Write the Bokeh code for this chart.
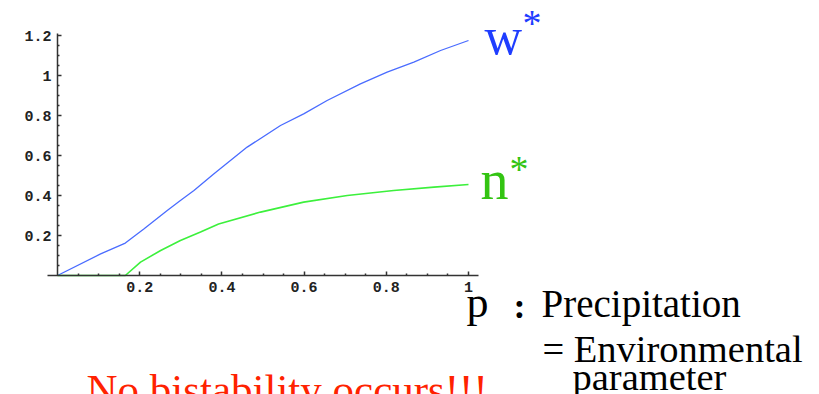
from bokeh.plotting import figure
from bokeh.models import LinearAxis, FixedTicker, Label, Range1d
from bokeh.embed import file_html
from bokeh.resources import INLINE

# ---- data ----
p_w = [0, 0.105, 0.165, 0.21, 0.267, 0.299, 0.332, 0.38, 0.4615, 0.5426, 0.599,
       0.656, 0.737, 0.802, 0.867, 0.932, 1.0]
w_star = [0, 0.108, 0.162, 0.233, 0.325, 0.375, 0.425, 0.508, 0.642, 0.75, 0.808,
          0.875, 0.958, 1.017, 1.067, 1.125, 1.175]

p_n = [0, 0.165, 0.202, 0.251, 0.299, 0.348, 0.392, 0.494, 0.599, 0.705, 0.818,
       0.916, 1.0]
n_star = [0, 0, 0.067, 0.125, 0.175, 0.217, 0.258, 0.317, 0.367, 0.40, 0.425,
          0.442, 0.455]

x_ticks = [0.2, 0.4, 0.6, 0.8, 1.0]
x_tick_labels = ["0.2", "0.4", "0.6", "0.8", "1"]
x_minor = [0.05, 0.1, 0.15, 0.25, 0.3, 0.35, 0.45, 0.5, 0.55, 0.65, 0.7, 0.75,
           0.85, 0.9, 0.95]
y_ticks = [0.2, 0.4, 0.6, 0.8, 1.0, 1.2]
y_tick_labels = ["0.2", "0.4", "0.6", "0.8", "1", "1.2"]
y_minor = [0.05, 0.1, 0.15, 0.25, 0.3, 0.35, 0.45, 0.5, 0.55, 0.65, 0.7, 0.75,
           0.85, 0.9, 0.95, 1.05, 1.1, 1.15]

W, H = 819, 394
# frame covers whole canvas; data origin at canvas (57, 275)
sx, sy = 411.0, 200.0
x0, y0 = 57.0, 275.0

p = figure(width=W, height=H, output_backend="svg", toolbar_location=None,
           x_axis_type=None, y_axis_type=None, min_border=0,
           x_range=Range1d(-x0 / sx, (W - x0) / sx),
           y_range=Range1d(-(H - y0) / sy, y0 / sy))
p.outline_line_color = None
p.background_fill_color = "white"
p.border_fill_color = "white"

axis_color = "#333333"
xa = LinearAxis(fixed_location=0, bounds=(-0.025, 1.025),
                ticker=FixedTicker(ticks=x_ticks, minor_ticks=x_minor),
                major_label_overrides=dict(zip(x_ticks, x_tick_labels)))
ya = LinearAxis(fixed_location=0, bounds=(0, 1.21),
                ticker=FixedTicker(ticks=y_ticks, minor_ticks=y_minor),
                major_label_overrides=dict(zip(y_ticks, y_tick_labels)))
for ax in (xa, ya):
    ax.axis_line_color = axis_color
    ax.axis_line_width = 1.5
    ax.major_tick_in = 4
    ax.major_tick_out = 0
    ax.minor_tick_in = 2
    ax.minor_tick_out = 0
    ax.major_tick_line_color = axis_color
    ax.minor_tick_line_color = axis_color
    ax.major_tick_line_width = 1.5
    ax.minor_tick_line_width = 1.5
    ax.major_label_text_font = "Liberation Mono"
    ax.major_label_text_font_size = "15px"
    ax.major_label_text_font_style = "bold"
    ax.major_label_text_color = "#222222"
    ax.major_label_standoff = 6
p.add_layout(xa, "below")
p.add_layout(ya, "left")

p.line(p_w, w_star, line_color="#4a6cff", line_width=1.3)
p.line(p_n, n_star, line_color="#3cf03c", line_width=1.6)

serif = "Liberation Serif"

def lab(text, x, y, size, color="black", style="normal"):
    p.add_layout(Label(text=text, x=x, y=y, x_units="screen", y_units="screen",
                       text_font=serif, text_font_size=f"{size}px",
                       text_color=color, text_font_style=style,
                       text_baseline="alphabetic", text_align="left"))

blue = "#1f3dff"
green = "#33c412"
lab("w", 484, 358, 52, blue)
lab("*", 522, 372, 38, blue)
lab("n", 480, 215, 56, green)
lab("*", 509, 226, 38, green)
lab("p", 466, 92, 44)
lab(":", 513, 89, 36, style="bold")
lab("Precipitation", 541, 91, 39)
lab("= Environmental", 542, 46, 38.5)
lab("parameter", 572, 18, 38.5)
lab("No bistability occurs!!!", 86, 5, 43, "#ff2200")

open("out.html", "w").write(file_html(p, INLINE))
